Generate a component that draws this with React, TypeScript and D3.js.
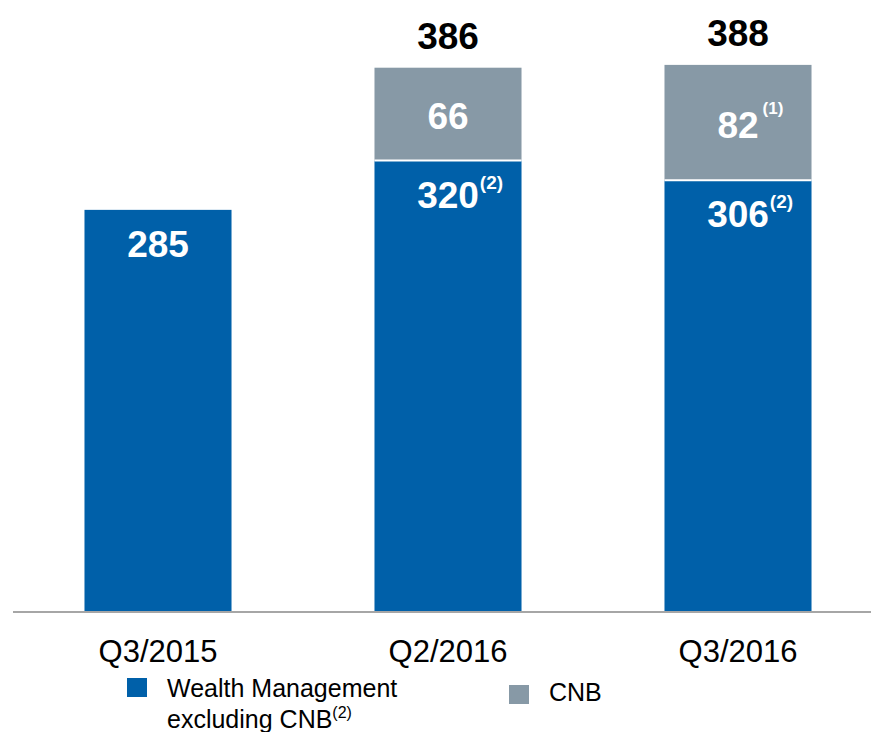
import React, { useEffect, useRef } from 'react';
import * as d3 from 'd3';

// Data
const quarters = ['Q3/2015', 'Q2/2016', 'Q3/2016'];
const wealthMgmt = [285, 320, 306];
const cnb = [0, 66, 82];
const totals = [null, 386, 388];
const wmNotes = ['', '(2)', '(2)'];
const cnbNotes = ['', '', '(1)'];

const BLUE = '#0060A9';
const GRAY = '#8799A6';
const FONT = '"Liberation Sans", Arial, Helvetica, sans-serif';

export default function App() {
  const ref = useRef<SVGSVGElement>(null);

  useEffect(() => {
    const width = 871;
    const height = 732;

    const svg = d3.select(ref.current)
      .attr('width', width)
      .attr('height', height)
      .style('font-family', FONT);
    svg.selectAll('*').remove();

    const x = d3.scaleBand()
      .domain(quarters)
      .range([13, 883])
      .paddingInner(0.493)
      .paddingOuter(0.2465);

    const y = d3.scaleLinear()
      .domain([0, 400])
      .range([611, 48]);

    const bw = x.bandwidth();
    const numSize = 37;
    const numWidth = (s: string) => s.length * 0.556 * numSize;

    const g = svg.append('g');

    quarters.forEach((q, i) => {
      const x0 = x(q)!;
      const cx = x0 + bw / 2;
      const wm = wealthMgmt[i];
      const c = cnb[i];

      // Blue segment
      g.append('rect')
        .attr('x', x0)
        .attr('y', y(wm))
        .attr('width', bw)
        .attr('height', y(0) - y(wm))
        .attr('fill', BLUE);

      // Gray segment
      if (c > 0) {
        g.append('rect')
          .attr('x', x0)
          .attr('y', y(wm + c))
          .attr('width', bw)
          .attr('height', y(wm) - y(wm + c))
          .attr('fill', GRAY);
        g.append('line')
          .attr('x1', x0).attr('x2', x0 + bw)
          .attr('y1', y(wm)).attr('y2', y(wm))
          .attr('stroke', '#fff')
          .attr('stroke-width', 2);
      }

      // Blue label
      const wmY = y(wm) + 47;
      g.append('text')
        .attr('x', cx).attr('y', wmY)
        .attr('text-anchor', 'middle')
        .attr('font-size', numSize)
        .attr('font-weight', 'bold')
        .attr('fill', '#fff')
        .text(String(wm));
      if (wmNotes[i]) {
        g.append('text')
          .attr('x', cx + numWidth(String(wm)) / 2 + 1)
          .attr('y', wmY - 19)
          .attr('font-size', 19)
          .attr('font-weight', 'bold')
          .attr('fill', '#fff')
          .text(wmNotes[i]);
      }

      // Gray label
      if (c > 0) {
        const cy = (y(wm) + y(wm + c)) / 2 + 15;
        g.append('text')
          .attr('x', cx).attr('y', cy)
          .attr('text-anchor', 'middle')
          .attr('font-size', numSize)
          .attr('font-weight', 'bold')
          .attr('fill', '#fff')
          .text(String(c));
        if (cnbNotes[i]) {
          g.append('text')
            .attr('x', cx + numWidth(String(c)) / 2 + 4)
            .attr('y', cy - 24)
            .attr('font-size', 17)
            .attr('font-weight', 'bold')
            .attr('fill', '#fff')
            .text(cnbNotes[i]);
        }
      }

      // Total above bar
      if (totals[i] != null) {
        g.append('text')
          .attr('x', cx).attr('y', y(totals[i]!) - 19)
          .attr('text-anchor', 'middle')
          .attr('font-size', numSize)
          .attr('font-weight', 'bold')
          .attr('fill', '#000')
          .text(String(totals[i]));
      }
    });

    // Baseline
    svg.append('line')
      .attr('x1', 13).attr('x2', width)
      .attr('y1', 612).attr('y2', 612)
      .attr('stroke', '#A6A6A6')
      .attr('stroke-width', 2);

    // Category labels
    const xAxis = svg.append('g')
      .attr('transform', 'translate(0, 612)')
      .call(d3.axisBottom(x).tickSize(0).tickPadding(0));
    xAxis.select('.domain').remove();
    xAxis.selectAll('text')
      .attr('dy', null)
      .attr('y', 50)
      .attr('font-size', 31)
      .attr('font-family', FONT)
      .attr('fill', '#000');

    // Legend
    const leg = svg.append('g');
    leg.append('rect')
      .attr('x', 127).attr('y', 678)
      .attr('width', 20).attr('height', 19)
      .attr('fill', BLUE);
    const t1 = leg.append('text')
      .attr('x', 167).attr('y', 697)
      .attr('font-size', 25)
      .attr('fill', '#000');
    t1.append('tspan').text('Wealth Management');
    const t2 = leg.append('text')
      .attr('x', 167).attr('y', 728)
      .attr('font-size', 25)
      .attr('fill', '#000');
    t2.append('tspan').text('excluding CNB');
    t2.append('tspan')
      .attr('font-size', 16)
      .attr('dy', -10)
      .text('(2)');

    leg.append('rect')
      .attr('x', 509).attr('y', 685)
      .attr('width', 20).attr('height', 19)
      .attr('fill', GRAY);
    leg.append('text')
      .attr('x', 549).attr('y', 701)
      .attr('font-size', 25)
      .attr('fill', '#000')
      .text('CNB');
  }, []);

  return (
    <svg ref={ref} style={{ position: 'absolute', left: 0, top: 0 }}></svg>
  );
}
